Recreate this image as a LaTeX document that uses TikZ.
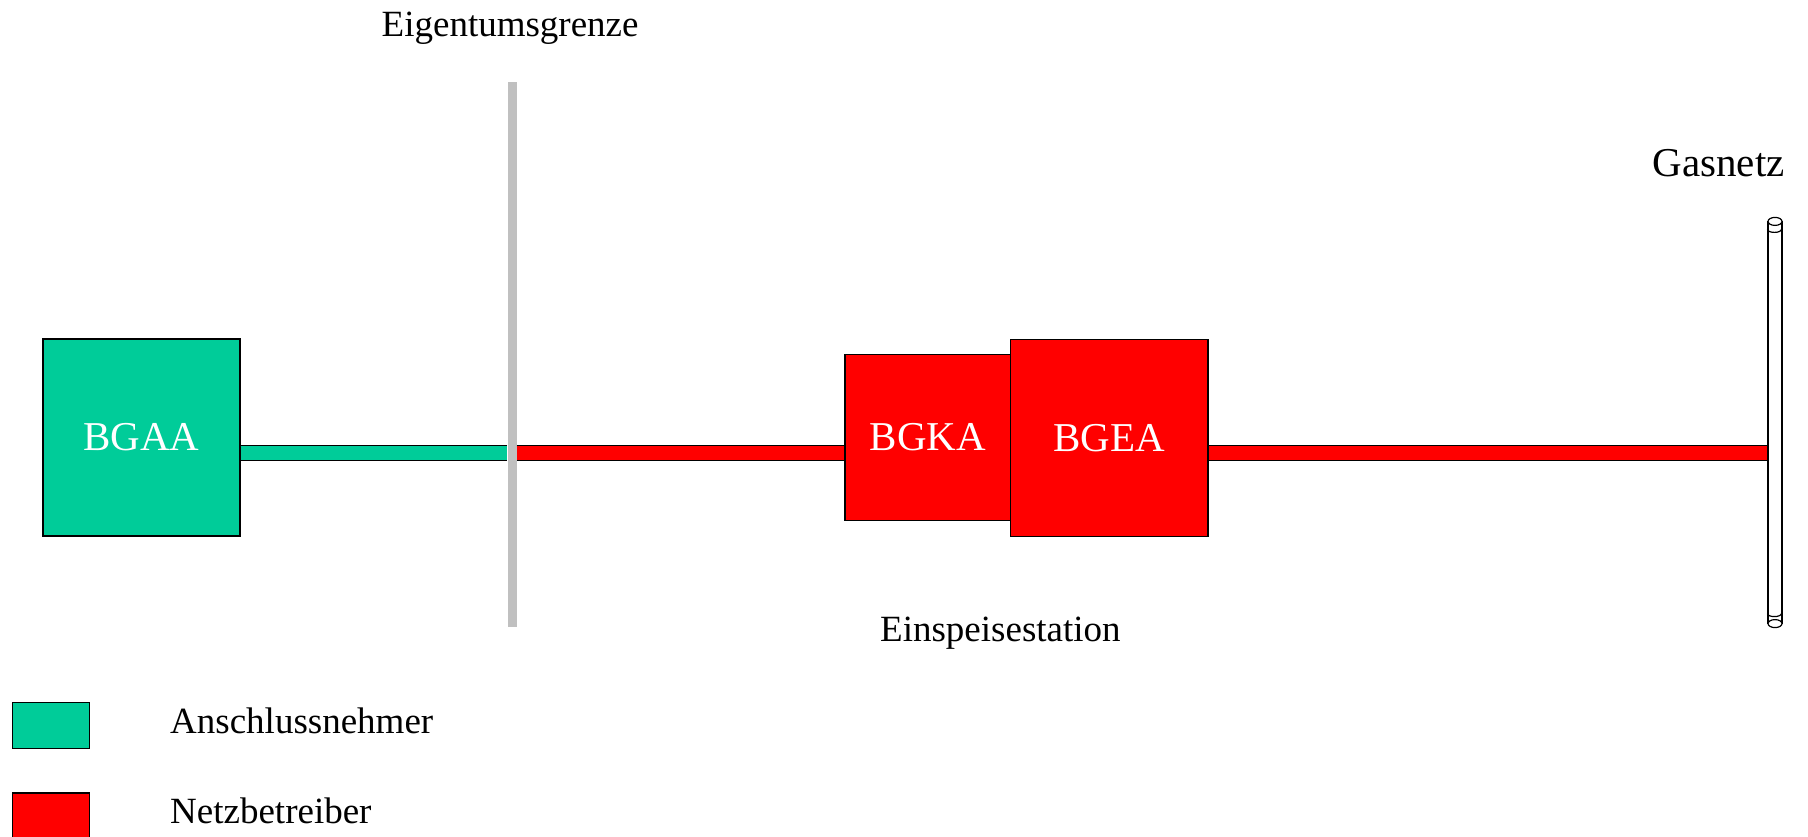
\documentclass[tikz,border=0pt]{standalone}
\usepackage{fontspec}
\setmainfont{Liberation Serif}
\definecolor{owner}{RGB}{0,204,153}
\definecolor{net}{RGB}{255,0,0}
\definecolor{bar}{RGB}{192,192,192}
\tikzset{
  boxnode/.style={draw=black, line width=1.5pt, minimum width=#1, inner sep=0pt, text=white, font=\fontsize{41}{48}\selectfont},
  pipeline/.style={draw=black, line width=1.3pt, double=#1, double distance=13.5pt},
  lbl/.style={anchor=base west, inner sep=0pt, font=\fontsize{37}{44}\selectfont},
  legbox/.style={draw=black, line width=1.3pt, minimum width=76.5pt, minimum height=46pt, inner sep=0pt},
  cyl/.style={line width=1.2pt}
}
\begin{document}
\begin{tikzpicture}[x=1pt,y=-1pt]
\useasboundingbox (0,0) rectangle (1808,837);
% property boundary
\node[fill=bar, minimum width=9pt, minimum height=545pt, inner sep=0pt] (grenze) at (512,354.5) {};
\node[lbl] (grenzelbl) at (381.5,37) {Eigentumsgrenze};
\coordinate (pipey) at (0,453);
% gas network pipe
\node[draw=black, cyl, fill=white, minimum width=14pt, minimum height=401pt, inner sep=0pt] (netz) at (1775,422.5) {};
\draw[cyl, fill=white] (netz.north) ellipse [x radius=7pt, y radius=4pt];
\draw[cyl, fill=white] (netz.south) ellipse [x radius=7pt, y radius=4pt];
\draw[cyl] ([yshift=-8pt]netz.north west) arc [start angle=180, end angle=360, x radius=7pt, y radius=3pt];
\draw[cyl] ([yshift=10pt]netz.south west) arc [start angle=180, end angle=360, x radius=7pt, y radius=3pt];
\node[anchor=base west, inner sep=0pt, font=\fontsize{41}{48}\selectfont] (gasnetzlbl) at (1652.5,176.5) {Gasnetz};
% boxes
\node[boxnode=197pt, minimum height=197pt, fill=owner] (bgaa) at (141.4,437.5) {BGAA};
\node[boxnode=165.7pt, minimum height=166.4pt, fill=net] (bgka) at (927.8,437.5) {BGKA};
\node[boxnode=197.3pt, minimum height=197.4pt, fill=net] (bgea) at (1109.3,438) {BGEA};
\node[lbl] (station) at (880,641.5) {Einspeisestation};
% pipes
\draw[pipeline=owner] (bgaa.east |- pipey) -- (grenze.west |- pipey);
\draw[pipeline=net] (grenze.east |- pipey) -- (bgka.west |- pipey);
\draw[pipeline=net] (bgea.east |- pipey) -- (netz.west |- pipey);
% redraw boxes on top of pipe ends
\node[boxnode=165.7pt, minimum height=166.4pt, fill=net] at (bgka) {BGKA};
\node[boxnode=197.3pt, minimum height=197.4pt, fill=net] at (bgea) {BGEA};
% legend
\node[legbox, fill=owner] (leg1) at (51,725.3) {};
\node[legbox, fill=net] (leg2) at (51,816) {};
\node[lbl] (leg1lbl) at (170,733) {Anschlussnehmer};
\node[lbl] (leg2lbl) at (170,823) {Netzbetreiber};
\end{tikzpicture}
\end{document}
